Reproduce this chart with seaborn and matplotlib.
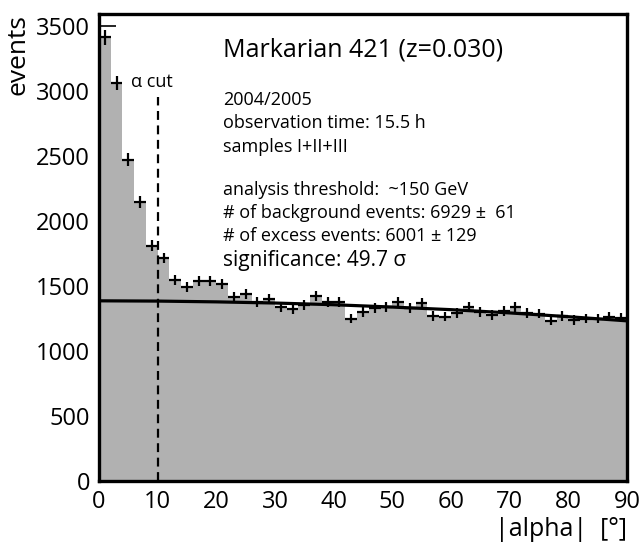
import numpy as np
import pandas as pd
import matplotlib
matplotlib.use('Agg')
import matplotlib.pyplot as plt
from matplotlib.ticker import MultipleLocator
import seaborn as sns

# |alpha| histogram, 2 degree bins from 0 to 90
bin_edges = list(range(0, 92, 2))
counts = [3410, 3060, 2470, 2146, 1808, 1715, 1546, 1492, 1538, 1538,
          1515, 1415, 1438, 1377, 1400, 1338, 1323, 1354, 1423, 1377,
          1377, 1246, 1300, 1331, 1338, 1377, 1331, 1369, 1269, 1262,
          1292, 1338, 1300, 1277, 1308, 1338, 1292, 1285, 1231, 1269,
          1238, 1246, 1246, 1262, 1254]

# background fit
fit_x = [0, 10, 20, 30, 40, 50, 60, 70, 80, 90]
fit_y = [1385, 1383, 1377, 1368, 1355, 1337, 1317, 1292, 1263, 1231]

alpha_cut = 10
cut_line_top = 2955

info_lines = ["2004/2005", "observation time: 15.5 h", "samples I+II+III"]
stat_lines = ["analysis threshold:  ~150 GeV",
              "# of background events: 6929 \u00b1  61",
              "# of excess events: 6001 \u00b1 129"]

centers = np.array(bin_edges[:-1]) + 1
df = pd.DataFrame({'alpha': centers, 'events': counts})

sns.set_style('ticks')
plt.rcParams['font.family'] = ['Open Sans', 'DejaVu Sans']
plt.rcParams.update({'text.color': 'black', 'axes.labelcolor': 'black',
                     'xtick.color': 'black', 'ytick.color': 'black',
                     'axes.edgecolor': 'black'})

fig = plt.figure(figsize=(6.41, 5.47), dpi=100)
ax = fig.add_axes([0.1544, 0.1207, 0.8237, 0.8537])

sns.histplot(data=df, x='alpha', weights='events', bins=bin_edges,
             element='step', fill=True, color='#b1b1b1', alpha=1,
             linewidth=0, ax=ax)
ax.errorbar(df['alpha'], df['events'], xerr=1, yerr=np.sqrt(df['events']),
            fmt='none', ecolor='black', elinewidth=1.6, capsize=0, zorder=3)
sns.lineplot(x=fit_x, y=fit_y, color='black', linewidth=2.3, ax=ax, zorder=4)

ax.vlines(alpha_cut, 0, cut_line_top, colors='black', linestyles=(0, (4, 2.5)),
          linewidth=1.6, zorder=4)
ax.text(alpha_cut - 1, 3070, "\u03b1 cut", ha='center', va='center', fontsize=13)

ax.set_xlim(0, 90)
ax.set_ylim(0, 3590)
ax.xaxis.set_major_locator(MultipleLocator(10))
ax.xaxis.set_minor_locator(MultipleLocator(2))
ax.yaxis.set_major_locator(MultipleLocator(500))
ax.yaxis.set_minor_locator(MultipleLocator(100))
ax.tick_params(which='both', direction='in', top=False, right=False, width=1.2)
ax.tick_params(which='major', length=12, labelsize=17, pad=6.5)
ax.tick_params(which='minor', length=6.5)
for sp in ax.spines.values():
    sp.set_linewidth(2.4)
    sp.set_visible(True)

ax.set_xlabel("|alpha|  [\u00b0]", loc='right', fontsize=18, labelpad=2)
ax.set_ylabel("events", loc='top', fontsize=19, labelpad=4)

tx = 0.235
ax.text(tx, 0.923, "Markarian 421 (z=0.030)", transform=ax.transAxes,
        fontsize=18, va='center')
for i, line in enumerate(info_lines):
    ax.text(tx, 0.816 - i * 0.05, line, transform=ax.transAxes,
            fontsize=13, va='center')
for i, line in enumerate(stat_lines):
    ax.text(tx, 0.623 - i * 0.049, line, transform=ax.transAxes,
            fontsize=13, va='center')
ax.text(tx, 0.473, "significance: 49.7 \u03c3", transform=ax.transAxes,
        fontsize=15, va='center')

fig.savefig('out.png', dpi=100)
